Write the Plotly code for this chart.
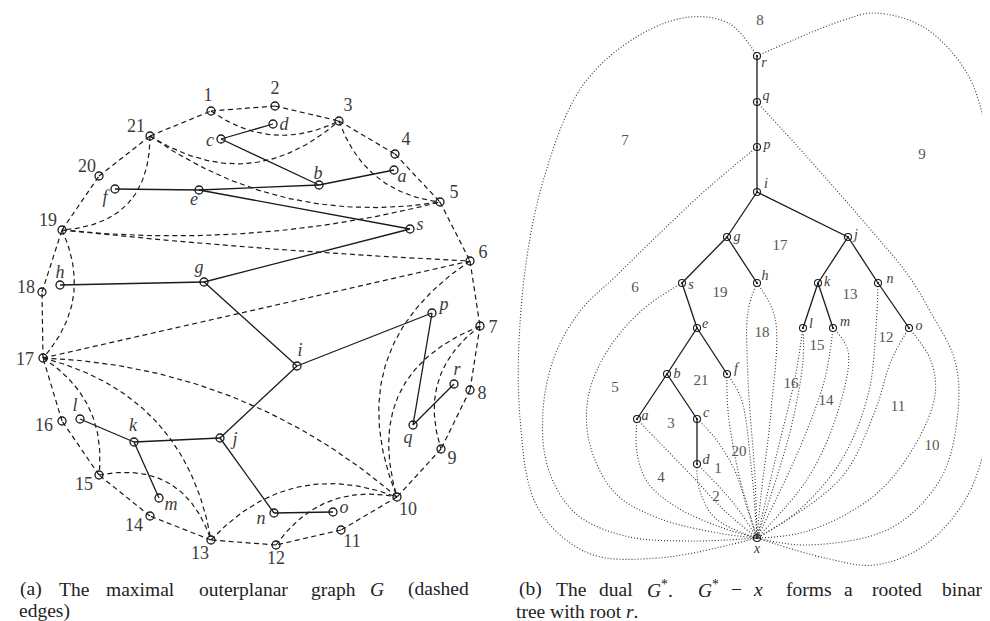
import numpy as np
import plotly.graph_objects as go

# ── (a) maximal outerplanar graph G ──────────────────────────────────────────
OUTER_IDS = list(range(1, 22))
OUTER_X = [203, 267, 331, 387, 432, 462, 472, 462, 433, 389, 333,
           268, 203, 142, 91, 54, 35, 34, 54, 91, 142]
OUTER_Y = [103, 98, 113, 146, 194, 253, 318, 382, 441, 489, 522,
           537, 532, 508, 467, 413, 350, 284, 222, 168, 128]

# chords of the triangulation: (u, v, bow of the arc)
CHORDS = [(1, 3, 19), (21, 3, 35), (3, 5, 20), (21, 5, 30), (21, 19, -30),
          (19, 5, 17), (19, 6, 3), (19, 17, -21), (17, 6, 0), (6, 10, 50),
          (7, 10, 43), (7, 9, 23), (17, 10, -33), (17, 13, -40),
          (17, 15, -20), (15, 13, -28), (13, 10, -32), (12, 10, -21)]

TREE_IDS = list("abcdefghijklmnopqrs")
TREE_A_X = [386, 311, 213, 265, 191, 107, 196, 52, 289, 212, 126, 72,
            151, 266, 325, 424, 405, 446, 402]
TREE_A_Y = [162, 177, 131, 116, 182, 181, 274, 277, 358, 430, 434, 411,
            490, 505, 504, 305, 417, 376, 221]

TREE_EDGES = [("c", "d"), ("c", "b"), ("b", "a"), ("b", "e"), ("e", "f"),
              ("e", "s"), ("s", "g"), ("g", "h"), ("g", "i"), ("i", "j"),
              ("i", "p"), ("p", "q"), ("q", "r"), ("j", "k"), ("k", "l"),
              ("k", "m"), ("j", "n"), ("n", "o")]

# ── (b) dual G* ──────────────────────────────────────────────────────────────
DUAL_IDS = TREE_IDS + ["x"]
DUAL_X = [629, 659, 689, 689, 689, 719, 719, 749, 749, 840, 810, 795,
          825, 870, 901, 749, 749, 749, 674, 749]
DUAL_Y = [411, 366, 411, 456, 320, 366, 229, 275, 184, 229, 275, 320,
          320, 275, 320, 139, 94, 48, 275, 530]

# dotted dual edges to x (through read-off points)
DUAL_CURVES = {
    "r-8": [(749, 48), (722, 16), (682, 9), (630, 28), (575, 77), (536, 170),
            (515, 280), (512, 410), (530, 500), (580, 545), (650, 550), (749, 530)],
    "p":   [(749, 139), (700, 180), (650, 227), (608, 268), (573, 302),
            (547, 347), (535, 403), (540, 460), (567, 505), (617, 528),
            (683, 533), (749, 530)],
    "s":   [(674, 275), (633, 303), (598, 345), (580, 390), (582, 437),
            (607, 485), (650, 510), (710, 525), (749, 530)],
    "a-4": [(629, 411), (629, 445), (640, 475), (670, 500), (715, 520), (749, 530)],
    "a-3": [(629, 411), (650, 433), (683, 467), (717, 503), (749, 530)],
    "d-2": [(689, 456), (691, 480), (707, 510), (749, 530)],
    "d-1": [(689, 456), (700, 467), (727, 497), (749, 530)],
    "c":   [(689, 411), (707, 430), (727, 463), (740, 503), (749, 530)],
    "f-21": [(719, 366), (720, 403), (730, 463), (743, 510), (749, 530)],
    "f-19": [(719, 366), (733, 390), (743, 457), (749, 530)],
    "h-19": [(749, 275), (740, 303), (740, 370), (747, 470), (749, 530)],
    "h-17": [(749, 275), (767, 310), (763, 403), (753, 487), (749, 530)],
    "l-17": [(795, 320), (787, 370), (767, 453), (749, 530)],
    "l-15": [(795, 320), (795, 353), (783, 420), (763, 487), (749, 530)],
    "m-15": [(825, 320), (817, 370), (793, 437), (749, 530)],
    "m-13": [(825, 320), (840, 343), (830, 403), (800, 470), (749, 530)],
    "n":   [(870, 275), (868, 320), (860, 387), (833, 453), (790, 503), (749, 530)],
    "o-12": [(901, 320), (883, 353), (867, 403), (833, 470), (749, 530)],
    "o-10": [(901, 320), (923, 353), (927, 387), (907, 437), (867, 487),
             (800, 523), (749, 530)],
    "q":   [(749, 94), (800, 150), (850, 207), (900, 267), (922, 303),
            (947, 353), (950, 403), (933, 470), (883, 520), (800, 537), (749, 530)],
    "r-9": [(749, 48), (783, 33), (833, 13), (867, 5), (917, 20), (960, 67),
            (980, 133), (988, 200), (992, 280), (988, 353), (983, 410),
            (960, 487), (917, 537), (867, 557), (817, 550), (749, 530)],
}

FACE_IDS = [8, 7, 9, 17, 6, 19, 13, 18, 15, 12, 5, 21, 16, 14, 11, 3, 10,
            20, 1, 4, 2]
FACE_X = [752, 617, 914, 772, 627, 712, 842, 754, 809, 878, 607, 693, 783,
          818, 890, 663, 924, 731, 710, 653, 708]
FACE_Y = [13, 133, 147, 238, 280, 285, 287, 325, 338, 330, 380, 373, 376,
          393, 399, 416, 438, 444, 461, 470, 489]

# ── label placement (layout) ─────────────────────────────────────────────────
OUTER_LBL = {1: (200, 88), 2: (267, 81), 3: (340, 98), 4: (398, 132),
             5: (446, 185), 6: (475, 245), 7: (485, 320), 8: (474, 386),
             9: (444, 451), 10: (400, 502), 11: (344, 534), 12: (268, 551),
             13: (192, 546), 14: (126, 518), 15: (76, 477), 16: (36, 418),
             17: (17, 352), 18: (18, 280), 19: (40, 213), 20: (79, 159),
             21: (128, 119)}
A_OFF = {"a": (8, 7), "b": (-1, -11), "c": (-11, 2), "d": (11, 1),
         "e": (-5, 10), "f": (-10, 9), "g": (-5, -14), "h": (0, -12),
         "i": (3, -15), "j": (15, 2), "k": (-1, -16), "l": (-5, -13),
         "m": (12, 7), "n": (-13, 6), "o": (11, -4), "p": (12, -8),
         "q": (-5, 13), "r": (3, -14), "s": (10, -4)}
B_OFF = {"a": (8, -3), "b": (10, 0), "c": (9, -6), "d": (9, -4),
         "e": (8, -4), "f": (9, -5), "g": (10, 0), "h": (8, -7),
         "i": (9, -8), "j": (8, -2), "k": (9, -1), "l": (8, -4),
         "m": (12, -6), "n": (12, -4), "o": (10, -2), "p": (10, -2),
         "q": (9, -6), "r": (7, 7), "s": (9, 2), "x": (0, 11)}

SERIF = "Liberation Serif, Times New Roman, serif"
INK = "#1a1a1a"
TXT = "#3c3c3c"
CAP = dict(family=SERIF, size=19.5, color="#222222")


def arc(p0, p2, bow, n=60):
    p0, p2 = np.asarray(p0, float), np.asarray(p2, float)
    d = p2 - p0
    nrm = np.array([-d[1], d[0]]) / np.hypot(*d)
    ctrl = (p0 + p2) / 2 + 2 * bow * nrm
    t = np.linspace(0, 1, n)[:, None]
    pts = (1 - t) ** 2 * p0 + 2 * (1 - t) * t * ctrl + t ** 2 * p2
    return pts[:, 0], pts[:, 1]


opos = {k: (x, y) for k, x, y in zip(OUTER_IDS, OUTER_X, OUTER_Y)}
apos = {k: (x, y) for k, x, y in zip(TREE_IDS, TREE_A_X, TREE_A_Y)}
bpos = {k: (x, y) for k, x, y in zip(DUAL_IDS, DUAL_X, DUAL_Y)}

fig = go.Figure()

# dashed edges of G: outer cycle + chords
dx, dy = [], []
for i in range(len(OUTER_IDS)):
    u, v = OUTER_IDS[i], OUTER_IDS[(i + 1) % len(OUTER_IDS)]
    dx += [opos[u][0], opos[v][0], None]
    dy += [opos[u][1], opos[v][1], None]
for u, v, bow in CHORDS:
    xs, ys = arc(opos[u], opos[v], bow)
    dx += list(xs) + [None]
    dy += list(ys) + [None]
fig.add_trace(go.Scatter(x=dx, y=dy, mode="lines", hoverinfo="skip",
                         line=dict(color=INK, width=1.2, dash="5px,3.5px")))

# solid tree edges in (a) and (b)
for pos in (apos, bpos):
    sx, sy = [], []
    for u, v in TREE_EDGES:
        sx += [pos[u][0], pos[v][0], None]
        sy += [pos[u][1], pos[v][1], None]
    fig.add_trace(go.Scatter(x=sx, y=sy, mode="lines", hoverinfo="skip",
                             line=dict(color=INK, width=1.3)))

# dotted dual edges
for name, pts in DUAL_CURVES.items():
    fig.add_trace(go.Scatter(
        x=[p[0] for p in pts], y=[p[1] for p in pts], mode="lines",
        hoverinfo="skip",
        line=dict(color="#333333", width=1.1, dash="1px,2px",
                  shape="spline", smoothing=1.0)))

# vertices
fig.add_trace(go.Scatter(x=OUTER_X, y=OUTER_Y, mode="markers", hoverinfo="skip",
                         marker=dict(symbol="circle-open", size=8,
                                     color=INK, line=dict(width=1.3))))
fig.add_trace(go.Scatter(x=TREE_A_X, y=TREE_A_Y, mode="markers", hoverinfo="skip",
                         marker=dict(symbol="circle-open", size=8,
                                     color=INK, line=dict(width=1.3))))
fig.add_trace(go.Scatter(x=DUAL_X, y=DUAL_Y, mode="markers", hoverinfo="skip",
                         marker=dict(symbol="circle-open-dot", size=7,
                                     color=INK, line=dict(width=1.1))))

# labels
fig.add_trace(go.Scatter(
    x=[OUTER_LBL[k][0] for k in OUTER_IDS], y=[OUTER_LBL[k][1] for k in OUTER_IDS],
    text=[str(k) for k in OUTER_IDS], mode="text", hoverinfo="skip",
    textfont=dict(family=SERIF, size=18, color=TXT)))
fig.add_trace(go.Scatter(
    x=[apos[k][0] + A_OFF[k][0] for k in TREE_IDS],
    y=[apos[k][1] + A_OFF[k][1] for k in TREE_IDS],
    text=[f"<i>{k}</i>" for k in TREE_IDS], mode="text", hoverinfo="skip",
    textfont=dict(family=SERIF, size=18, color=TXT)))
fig.add_trace(go.Scatter(
    x=[bpos[k][0] + B_OFF[k][0] for k in DUAL_IDS],
    y=[bpos[k][1] + B_OFF[k][1] for k in DUAL_IDS],
    text=[f"<i>{k}</i>" for k in DUAL_IDS], mode="text", hoverinfo="skip",
    textfont=dict(family=SERIF, size=14, color=TXT)))
fig.add_trace(go.Scatter(
    x=FACE_X, y=FACE_Y, text=[str(k) for k in FACE_IDS], mode="text",
    hoverinfo="skip", textfont=dict(family=SERIF, size=15, color="#555555")))

# captions (first lines are justified in the source, so words are centred
# where they sit in the source)
cap_a = [("(a)", 23), ("The", 66), ("maximal", 132), ("outerplanar", 235),
         ("graph", 325), ("<i>G</i>", 369), ("(dashed", 430)]
cap_b = [("(b)", 522), ("The", 563), ("dual", 608), ("<i>G</i><sup>*</sup>.", 652),
         ("<i>G</i><sup>*</sup>", 700), ("−", 728), ("<i>x</i>", 750),
         ("forms", 801), ("a", 840), ("rooted", 889)]
for word, xw in cap_a + cap_b:
    fig.add_annotation(x=xw, y=581, text=word, showarrow=False, xanchor="center",
                       yanchor="middle", font=CAP)
fig.add_annotation(x=932, y=581, text="binary", showarrow=False, xanchor="left",
                   yanchor="middle", font=CAP)
fig.add_annotation(x=9, y=603, text="edges)", showarrow=False, xanchor="left",
                   yanchor="middle", font=CAP)
fig.add_annotation(x=506, y=603, text="tree with root <i>r</i>.", showarrow=False,
                   xanchor="left", yanchor="middle", font=CAP)

fig.update_layout(
    width=990, height=621,
    margin=dict(l=0, r=0, t=0, b=0),
    paper_bgcolor="white", plot_bgcolor="white",
    showlegend=False,
    xaxis=dict(range=[0, 990], visible=False, fixedrange=True),
    yaxis=dict(range=[621, 0], visible=False, fixedrange=True),
)

fig.write_html("out.html")
